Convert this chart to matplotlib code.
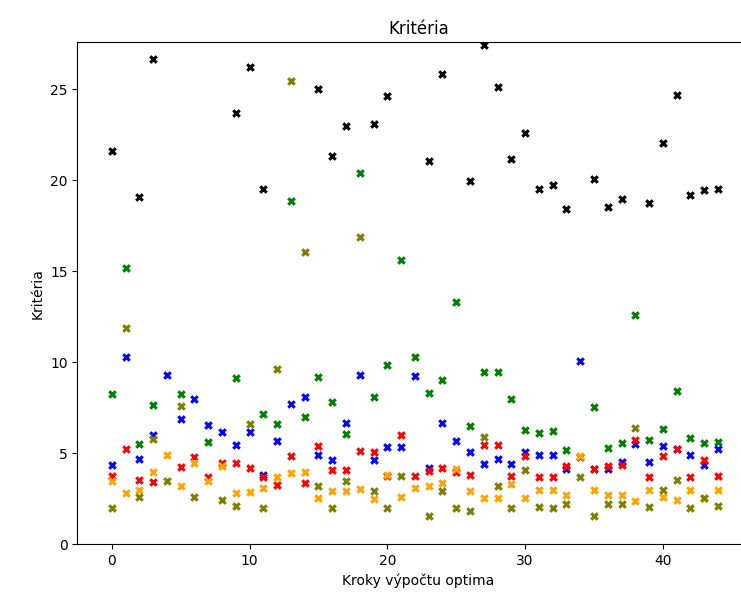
import numpy as np
import matplotlib
matplotlib.use("Agg")
import matplotlib.pyplot as plt

nan = np.nan

# Kroky výpočtu optima 0..44
kroky = list(range(45))

krit_cerna = [21.61, nan, 19.10, 26.65, nan, nan, nan, nan, nan, 23.72,
              26.20, 19.54, nan, nan, nan, 25.00, 21.34, 22.99, nan, 23.10,
              24.64, nan, nan, 21.03, 25.82, nan, 19.96, 27.42, 25.15, 21.19,
              22.60, 19.54, 19.73, 18.40, nan, 20.05, 18.50, 18.96, nan, 18.74,
              22.07, 24.70, 19.20, 19.45, 19.54]

krit_zelena = [8.25, 15.15, 5.50, 7.65, nan, 8.25, nan, 5.60, nan, 9.10,
               nan, 7.15, 6.60, 18.86, 7.00, 9.16, 7.82, 6.04, 20.42, 8.10,
               9.84, 15.60, 10.29, 8.28, 9.01, 13.28, 6.50, 9.43, 9.43, 7.97,
               6.26, 6.10, 6.23, 5.18, nan, 7.55, 5.26, 5.53, 12.60, 5.71,
               6.32, 8.42, 5.81, 5.53, 5.62]

krit_modra = [4.34, 10.26, 4.67, 6.00, 9.30, 6.85, 7.95, 6.56, 6.15, 5.44,
              6.17, 3.81, 5.64, 7.67, 8.10, 4.89, 4.62, 6.63, 9.30, 4.62,
              5.35, 5.35, 9.21, 4.16, 6.63, 5.64, 5.07, 4.40, 4.67, 4.40,
              5.07, 4.91, 4.91, 4.12, 10.07, 4.12, 4.12, 4.50, 5.49, 4.52,
              5.37, 5.22, 4.89, 4.34, 5.22]

krit_cervena = [3.75, 5.20, 3.53, 3.39, nan, 4.23, 4.80, 3.66, 4.43, 4.45,
                4.16, 3.66, 3.24, 4.82, 3.33, 5.40, 4.07, 4.07, 5.13, 5.07,
                3.72, 5.99, 3.72, 4.03, 4.16, 3.94, 3.79, 5.44, 5.44, 3.75,
                4.85, 3.70, 3.70, 4.30, 4.78, 4.12, 4.27, 4.34, 5.73, 3.70,
                4.82, 5.22, 3.70, 4.62, 3.75]

krit_oranzova = [3.48, 2.80, 2.98, 3.94, 4.91, 3.17, 4.45, 3.48, 4.30, 2.80,
                 2.87, 3.08, 3.70, 3.90, 3.94, 2.51, 2.93, 2.89, 3.02, 2.47,
                 3.81, 2.56, 3.08, 3.17, 3.33, 4.12, 2.93, 2.51, 2.51, 3.30,
                 2.51, 2.97, 2.97, 2.69, 4.85, 2.97, 2.69, 2.69, 2.38, 2.97,
                 2.60, 2.43, 2.97, 2.55, 2.97]

krit_olivova = [1.98, 11.85, 2.56, 5.77, 3.48, 7.60, 2.56, nan, 2.43, 2.10,
                6.57, 1.98, 9.60, 25.46, 16.03, 3.17, 1.98, 3.48, 16.90, 2.89,
                1.98, 3.72, nan, 1.52, 2.89, 1.98, 1.83, 5.86, 3.17, 1.98,
                4.07, 2.05, 1.98, 2.20, 3.70, 1.52, 2.20, 2.20, 6.37, 2.05,
                2.97, 3.53, 1.98, 2.51, 2.10]

fig = plt.figure(figsize=(7.41, 6.05), dpi=100)
# osy presahuji pravy okraj obrazku (puvodni obrazek je oriznuty)
ax = fig.add_axes([77.3 / 741, 61 / 605, 682 / 741, 501.7 / 605])

for hodnoty, barva in [(krit_cerna, "black"), (krit_zelena, "green"),
                       (krit_modra, "blue"), (krit_cervena, "red"),
                       (krit_oranzova, "orange"), (krit_olivova, "olive")]:
    ax.scatter(kroky, hodnoty, marker="x", color=barva, s=22, linewidths=2.2)

ax.set_xlim(-2.5, 47)
ax.set_ylim(0, 27.58)
ax.set_xticks([0, 10, 20, 30, 40])
ax.set_yticks([0, 5, 10, 15, 20, 25])
ax.set_title("Kritéria")
ax.set_xlabel("Kroky výpočtu optima")
ax.set_ylabel("Kritéria")

fig.savefig("out.png", dpi=100)
